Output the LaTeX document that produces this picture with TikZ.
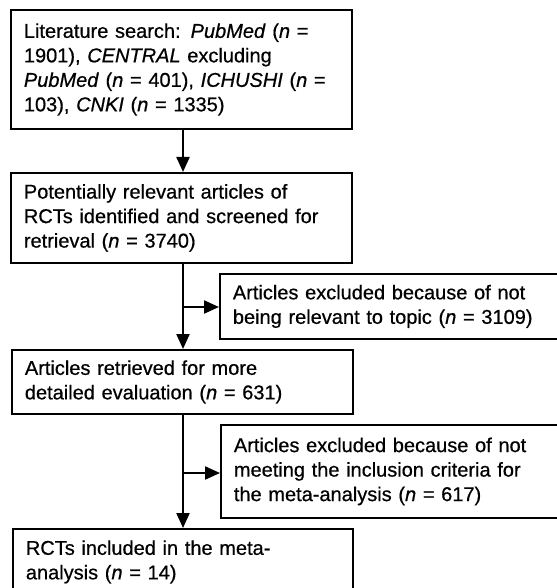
\documentclass[tikz,border=0pt]{standalone}
\usepackage{fontspec}
\setmainfont{Liberation Sans}[
  BoldFont=Liberation Sans, BoldFeatures={FakeBold=0.6},
  BoldItalicFont=Liberation Sans Italic, BoldItalicFeatures={FakeBold=0.6}]
\usetikzlibrary{arrows.meta}
\begin{document}
\begin{tikzpicture}[x=1pt,y=-1pt,
  flowbox/.style={draw=black, line width=1.8pt, rectangle, anchor=north west,
    inner xsep=13pt, inner ysep=0pt, align=left,
    font=\fontsize{20}{24.5}\selectfont\bfseries},
  arr/.style={line width=2.2pt, -{Triangle[length=15pt,width=13pt]}}]
\useasboundingbox (0,0) rectangle (556,588);
\node[flowbox, minimum width=341pt, minimum height=119pt, text width=315pt] (b1) at (10,9)
  {Literature search: \textit{PubMed} (\textit{n} =\\1901), \textit{CENTRAL} excluding\\\textit{PubMed} (\textit{n} = 401), \textit{ICHUSHI} (\textit{n} =\\103), \textit{CNKI} (\textit{n} = 1335)};
\node[flowbox, minimum width=341pt, minimum height=90pt, text width=315pt] (b2) at (10,172)
  {Potentially relevant articles of\\RCTs identified and screened for\\retrieval (\textit{n} = 3740)};
\node[flowbox, minimum width=355pt, minimum height=65pt, text width=329pt] (b3) at (219,273)
  {Articles excluded because of not\\being relevant to topic (\textit{n} = 3109)};
\node[flowbox, minimum width=341pt, minimum height=64pt, text width=315pt] (b4) at (11,349)
  {Articles retrieved for more\\detailed evaluation (\textit{n} = 631)};
\node[flowbox, minimum width=355pt, minimum height=93pt, text width=329pt] (b5) at (220,424)
  {Articles excluded because of not\\meeting the inclusion criteria for\\the meta-analysis (\textit{n} = 617)};
\node[flowbox, minimum width=340pt, minimum height=66pt, text width=314pt] (b6) at (12,528)
  {RCTs included in the meta-\\analysis (\textit{n} = 14)};
\coordinate (spine) at (183,0);
\coordinate (j1) at (183,307);
\coordinate (j2) at (183,473);
\draw[arr] (b1.south -| spine) -- (b2.north -| spine);
\draw[arr] (b2.south -| spine) -- (b4.north -| spine);
\draw[arr] (b4.south -| spine) -- (b6.north -| spine);
\draw[arr] (j1) -- (j1 -| b3.west);
\draw[arr] (j2) -- (j2 -| b5.west);
\end{tikzpicture}
\end{document}
